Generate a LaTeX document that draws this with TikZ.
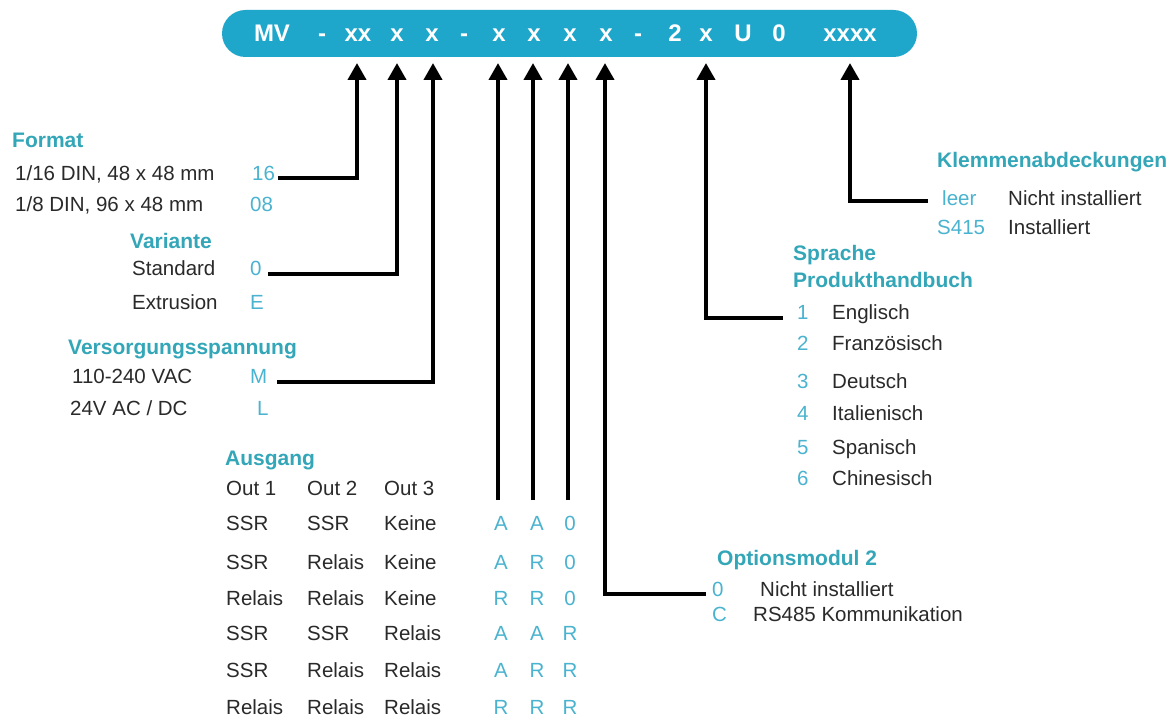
\documentclass[tikz,border=0pt]{standalone}
\usepackage{fontspec}
\setmainfont{Liberation Sans}
\usetikzlibrary{arrows.meta}
\definecolor{bannerc}{HTML}{1EA6CB}
\definecolor{titlec}{HTML}{33A6B8}
\definecolor{valc}{HTML}{4AB3CF}
\definecolor{txtc}{HTML}{2A2A2A}
\begin{document}
\begin{tikzpicture}[x=1pt,y=-1pt,
 txt/.style={anchor=west,inner sep=0pt,text height=15pt,text depth=0pt,text=txtc,font=\fontsize{20.5}{24}\selectfont},
 val/.style={txt,text=valc},
 valc/.style={val,anchor=center},
 ttl/.style={txt,text=titlec,font=\fontsize{21}{24}\selectfont\bfseries},
 code/.style={anchor=center,inner sep=0pt,text height=17pt,text depth=0pt,text=white,font=\fontsize{24}{28}\selectfont\bfseries},
 conn/.style={draw=black,line width=4pt,-{Triangle[length=17pt,width=18pt]}},
]
\useasboundingbox (0,0) rectangle (1168,722);
\fill[white] (0,0) rectangle (1168,722);
% banner
\node[fill=bannerc,rounded corners=23.5pt,minimum width=695pt,minimum height=47pt,inner sep=0pt] (banner) at (569.5,33.5) {};
\node[code] (cMV) at (272,33) {MV};
\node[code] (cd1) at (322,33) {-};
\node[code] (c1) at (358,33) {xx};
\node[code] (c2) at (397,33) {x};
\node[code] (c3) at (432,33) {x};
\node[code] (cd2) at (464,33) {-};
\node[code] (c4) at (499,33) {x};
\node[code] (c5) at (534,33) {x};
\node[code] (c6) at (570,33) {x};
\node[code] (c7) at (606,33) {x};
\node[code] (cd3) at (638,33) {-};
\node[code] (c2b) at (675,33) {2};
\node[code] (c8) at (706,33) {x};
\node[code] (cU) at (743,33) {U};
\node[code] (c0) at (779,33) {0};
\node[code] (c9) at (850,33) {xxxx};
% arrow targets
\coordinate (t1) at (357,63);
\coordinate (t2) at (397,63);
\coordinate (t3) at (433,63);
\coordinate (t4) at (498,63);
\coordinate (t5) at (533,63);
\coordinate (t6) at (568,63);
\coordinate (t7) at (605,63);
\coordinate (t8) at (706,63);
\coordinate (t9) at (850,63);
% Format
\node[ttl] (tFormat) at (12,140) {Format};
\node[txt] (f1) at (15,173) {1/16 DIN, 48 x 48 mm};
\node[val] (v16) at (252,173) {16};
\node[txt] (f2) at (15,204) {1/8 DIN, 96 x 48 mm};
\node[val] (v08) at (250,204) {08};
% Variante
\node[ttl] (tVar) at (130,241) {Variante};
\node[txt] (s1) at (132,268) {Standard};
\node[val] (v0) at (250,268) {0};
\node[txt] (s2) at (132,302) {Extrusion};
\node[val] (vE) at (250,302) {E};
% Versorgung
\node[ttl] (tVers) at (68,347) {Versorgungsspannung};
\node[txt] (p1) at (72,376) {110-240 VAC};
\node[val] (vM) at (250,376) {M};
\node[txt] (p2) at (70,408) {24V AC / DC};
\node[val] (vL) at (257,408) {L};
% Ausgang
\node[ttl] (tAus) at (225,458) {Ausgang};
\node[txt] (o1) at (226,488) {Out 1};
\node[txt] (o2) at (307,488) {Out 2};
\node[txt] (o3) at (384,488) {Out 3};
\foreach \y/\a/\b/\c/\p/\q/\r [count=\i] in {
 523/SSR/SSR/Keine/A/A/0,
 562/SSR/Relais/Keine/A/R/0,
 598/Relais/Relais/Keine/R/R/0,
 633/SSR/SSR/Relais/A/A/R,
 670/SSR/Relais/Relais/A/R/R,
 707/Relais/Relais/Relais/R/R/R}{
 \node[txt] (ra\i) at (226,\y) {\a};
 \node[txt] (rb\i) at (307,\y) {\b};
 \node[txt] (rc\i) at (384,\y) {\c};
 \node[valc] (ka\i) at (501,\y) {\p};
 \node[valc] (kb\i) at (537,\y) {\q};
 \node[valc] (kc\i) at (570,\y) {\r};
}
% Optionsmodul 2
\node[ttl] (tOpt) at (717,558) {Optionsmodul 2};
\node[val] (oz) at (712,589) {0};
\node[txt] (on) at (760,589) {Nicht installiert};
\node[val] (oc) at (712,614) {C};
\node[txt] (ok) at (753,614) {RS485 Kommunikation};
% Sprache
\node[ttl] (tSpr1) at (793,253) {Sprache};
\node[ttl] (tSpr2) at (793,280) {Produkthandbuch};
\foreach \y/\n/\w in {312/1/Englisch,343/2/Französisch,381/3/Deutsch,413/4/Italienisch,447/5/Spanisch,478/6/Chinesisch}{
 \node[val] (sn\n) at (797,\y) {\n};
 \node[txt] (sw\n) at (832,\y) {\w};
}
% Klemmen
\node[ttl] (tKl) at (937,160) {Klemmenabdeckungen};
\node[val] (kl1) at (942,198) {leer};
\node[txt] (kt1) at (1008,198) {Nicht installiert};
\node[val] (kl2) at (937,227) {S415};
\node[txt] (kt2) at (1008,227) {Installiert};
% connector start points
\coordinate (s1c) at (278,178);
\coordinate (s2c) at (268,274);
\coordinate (s3c) at (277,382);
\coordinate (s4c) at (498,500);
\coordinate (s5c) at (533,500);
\coordinate (s6c) at (568,500);
\coordinate (s7c) at (706,594);
\coordinate (s8c) at (783,318);
\coordinate (s9c) at (928,201);
% connectors
\draw[conn] (s1c) -| (t1);
\draw[conn] (s2c) -| (t2);
\draw[conn] (s3c) -| (t3);
\draw[conn] (s4c) -- (t4);
\draw[conn] (s5c) -- (t5);
\draw[conn] (s6c) -- (t6);
\draw[conn] (s7c) -| (t7);
\draw[conn] (s8c) -| (t8);
\draw[conn] (s9c) -| (t9);
\end{tikzpicture}
\end{document}
